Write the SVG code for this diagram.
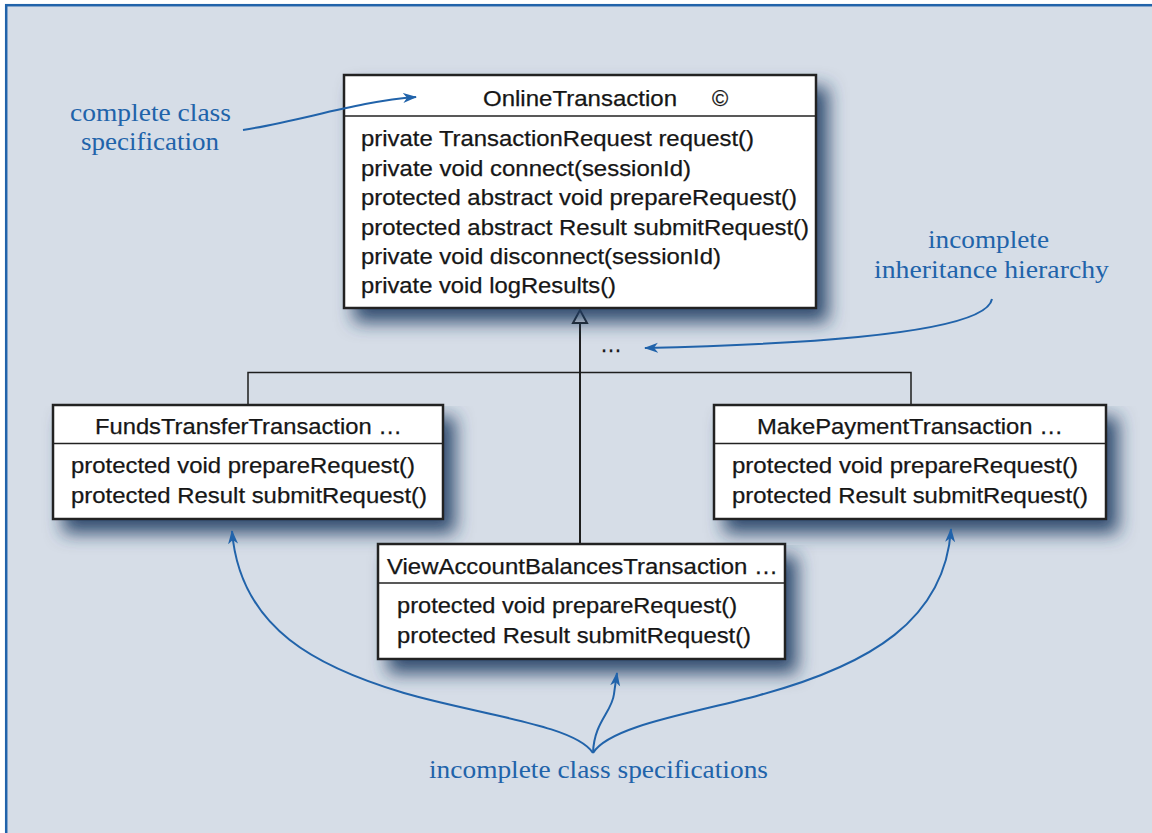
<svg xmlns="http://www.w3.org/2000/svg" width="1152" height="833" viewBox="0 0 1152 833">
<style>
.box{fill:#ffffff;stroke:#222;stroke-width:2.5}
.sep{stroke:#222;stroke-width:1.5}
.cls{font-family:"Liberation Sans",Arial,sans-serif;font-size:22px;fill:#161616;stroke:#161616;stroke-width:0.25}
.ann{font-family:"Liberation Serif","Times New Roman",serif;font-size:25px;fill:#2163aa}
.conn{stroke:#1e1e1e;fill:none}
.blue{stroke:#2163aa;stroke-width:2;fill:none}
</style>
<defs>
<filter id="sh" x="-10%" y="-10%" width="130%" height="150%">
<feGaussianBlur in="SourceAlpha" stdDeviation="9"/>
<feOffset dx="11" dy="13" result="b"/>
<feFlood flood-color="#1f3d63" flood-opacity="0.9"/>
<feComposite in2="b" operator="in"/>
<feMerge><feMergeNode/><feMergeNode in="SourceGraphic"/></feMerge>
</filter>
<marker id="ba" markerUnits="userSpaceOnUse" markerWidth="16" markerHeight="12" refX="13" refY="5" orient="auto">
<path d="M0,0 L14,5 L0,10 L4,5 z" fill="#2163aa"/>
</marker>
</defs>
<rect x="0" y="0" width="1152" height="833" fill="#ffffff"/>
<rect x="6.2" y="5.2" width="1160" height="840" fill="#d6dde7" stroke="#2163aa" stroke-width="2.5"/>

<g id="connectors">
<polyline class="conn" stroke-width="2" points="580,544 580,323"/>
<path d="M573,323 L580,310 L587,323 z" fill="#ffffff" stroke="#1e1e1e" stroke-width="2"/>
<polyline class="conn" stroke-width="1.5" points="248,405 248,372.5 911,372.5 911,405"/>
<text x="600" y="352" class="cls" font-size="20">…</text>
</g>

<g id="OnlineTransaction">
<rect x="344" y="75" width="472" height="233" class="box" filter="url(#sh)"/>
<line x1="344" y1="116" x2="816" y2="116" class="sep"/>
<text x="483" y="106" class="cls" font-size="23" textLength="194" lengthAdjust="spacingAndGlyphs">OnlineTransaction</text>
<text x="712" y="106" class="cls" font-size="22">©</text>
<text x="361" y="146" class="cls" textLength="393" lengthAdjust="spacingAndGlyphs">private TransactionRequest request()</text>
<text x="361" y="175.5" class="cls" textLength="330" lengthAdjust="spacingAndGlyphs">private void connect(sessionId)</text>
<text x="361" y="205" class="cls" textLength="436" lengthAdjust="spacingAndGlyphs">protected abstract void prepareRequest()</text>
<text x="361" y="234.5" class="cls" textLength="448" lengthAdjust="spacingAndGlyphs">protected abstract Result submitRequest()</text>
<text x="361" y="264" class="cls" textLength="360" lengthAdjust="spacingAndGlyphs">private void disconnect(sessionId)</text>
<text x="361" y="293" class="cls" textLength="255" lengthAdjust="spacingAndGlyphs">private void logResults()</text>
</g>

<g id="FundsTransferTransaction">
<rect x="53" y="405" width="390" height="114" class="box" filter="url(#sh)"/>
<line x1="53" y1="443.5" x2="443" y2="443.5" class="sep"/>
<text x="95" y="434" class="cls" textLength="307" lengthAdjust="spacingAndGlyphs">FundsTransferTransaction …</text>
<text x="71" y="473" class="cls" textLength="344" lengthAdjust="spacingAndGlyphs">protected void prepareRequest()</text>
<text x="71" y="503" class="cls" textLength="356" lengthAdjust="spacingAndGlyphs">protected Result submitRequest()</text>
</g>

<g id="MakePaymentTransaction">
<rect x="714" y="405" width="392" height="114" class="box" filter="url(#sh)"/>
<line x1="714" y1="443.5" x2="1106" y2="443.5" class="sep"/>
<text x="757" y="434" class="cls" textLength="306" lengthAdjust="spacingAndGlyphs">MakePaymentTransaction …</text>
<text x="732" y="473" class="cls" textLength="346" lengthAdjust="spacingAndGlyphs">protected void prepareRequest()</text>
<text x="732" y="503" class="cls" textLength="356" lengthAdjust="spacingAndGlyphs">protected Result submitRequest()</text>
</g>

<g id="ViewAccountBalancesTransaction">
<rect x="378" y="544" width="407" height="115" class="box" filter="url(#sh)"/>
<line x1="378" y1="583" x2="785" y2="583" class="sep"/>
<text x="387" y="574" class="cls" textLength="391" lengthAdjust="spacingAndGlyphs">ViewAccountBalancesTransaction …</text>
<text x="397" y="613" class="cls" textLength="340" lengthAdjust="spacingAndGlyphs">protected void prepareRequest()</text>
<text x="397" y="643" class="cls" textLength="354" lengthAdjust="spacingAndGlyphs">protected Result submitRequest()</text>
</g>

<g id="annotations">
<text x="70" y="121" class="ann" textLength="161" lengthAdjust="spacingAndGlyphs">complete class</text>
<text x="81" y="150" class="ann" textLength="138" lengthAdjust="spacingAndGlyphs">specification</text>
<path class="blue" d="M243,130 C 300,121 360,101 416,97" marker-end="url(#ba)"/>
<text x="928" y="248" class="ann" textLength="121" lengthAdjust="spacingAndGlyphs">incomplete</text>
<text x="874" y="278" class="ann" textLength="235" lengthAdjust="spacingAndGlyphs">inheritance hierarchy</text>
<path class="blue" d="M992,299 C 986,332 820,344 645,348" marker-end="url(#ba)"/>
<text x="429" y="778" class="ann" textLength="339" lengthAdjust="spacingAndGlyphs">incomplete class specifications</text>
<path class="blue" d="M593,753 C 575,725 480,715 404,693 C 320,668 240,630 232,531" marker-end="url(#ba)"/>
<path class="blue" d="M593,753 C 610,725 700,712 760,695 C 870,665 945,620 951,529" marker-end="url(#ba)"/>
<path class="blue" d="M593,753 C 594,722 612,712 614,694 C 615,686 616,680 617,673" marker-end="url(#ba)"/>
</g>
</svg>
